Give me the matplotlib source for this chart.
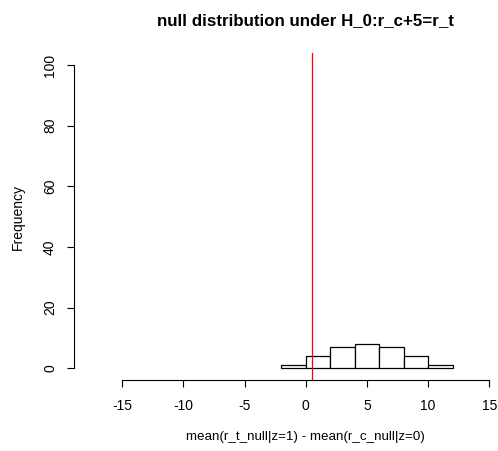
import matplotlib
matplotlib.use("Agg")
import matplotlib.pyplot as plt
import numpy as np

# histogram of the null distribution
bin_edges = [-2, 0, 2, 4, 6, 8, 10, 12]
counts = [1, 4, 7, 8, 7, 4, 1]
observed = 0.53

x_ticks = [-15, -10, -5, 0, 5, 10, 15]
y_ticks = [0, 20, 40, 60, 80, 100]

plt.rcParams['font.family'] = ['Liberation Sans', 'DejaVu Sans']
plt.rcParams['axes.unicode_minus'] = False

W, H = 498, 451
fig = plt.figure(figsize=(W / 100, H / 100), dpi=100)

# plot region in pixels (R style, axes drawn at region edges)
left_px, bottom_px, top_px = 74, 380.4, 52.9
xlim = (-18.95, 18.95)
px_per_unit = 12.233
width_px = (xlim[1] - xlim[0]) * px_per_unit
ax = fig.add_axes([left_px / W, 1 - bottom_px / H,
                   width_px / W, (bottom_px - top_px) / H])

edges = np.array(bin_edges, dtype=float)
ax.bar(edges[:-1], counts, width=np.diff(edges), align='edge',
       facecolor='white', edgecolor='black', linewidth=0.9)
ax.axvline(observed, color='red', linewidth=0.9)

ax.set_xlim(*xlim)
ax.set_ylim(-4, 104)
ax.set_xticks(x_ticks)
ax.set_yticks(y_ticks)

for s in ['top', 'right']:
    ax.spines[s].set_visible(False)
ax.spines['bottom'].set_bounds(-15, 15)
ax.spines['left'].set_bounds(0, 100)
for s in ['bottom', 'left']:
    ax.spines[s].set_linewidth(0.8)

ax.tick_params(axis='x', length=5, width=0.8, pad=8.3, labelsize=10)
ax.tick_params(axis='y', length=5, width=0.8, pad=7.2, labelsize=10,
               labelrotation=90)
for lab in ax.get_yticklabels():
    lab.set_va('center')

cx = (left_px + width_px / 2) / W
fig.text(cx, 1 - 21 / H, 'null distribution under H_0:r_c+5=r_t',
         ha='center', va='center', fontsize=12.2, fontweight='bold')
fig.text(cx, 1 - 437 / H, 'mean(r_t_null|z=1) - mean(r_c_null|z=0)',
         ha='center', va='center', fontsize=9.6)
fig.text(17.5 / W, 1 - 216.6 / H, 'Frequency', rotation=90,
         ha='center', va='center', fontsize=10)

fig.savefig('out.png', dpi=100)
